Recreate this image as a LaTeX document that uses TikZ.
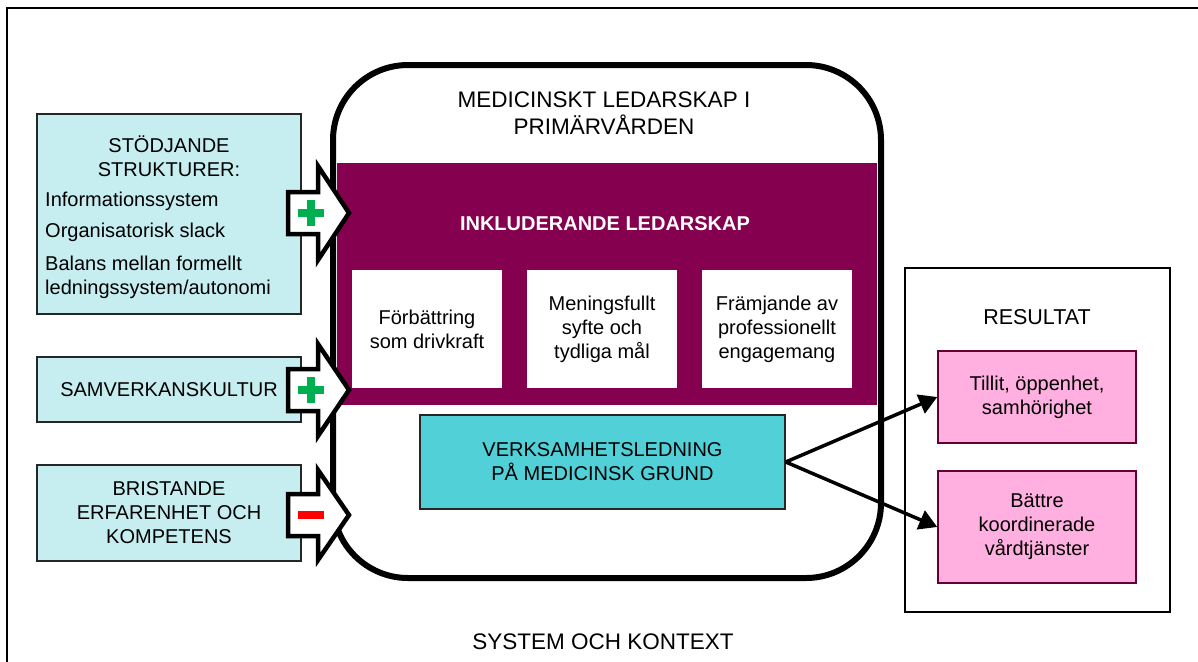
\documentclass[tikz,border=0pt]{standalone}
\usepackage{fontspec}
\setmainfont{Liberation Sans}
\usetikzlibrary{arrows.meta}
\definecolor{cyanlight}{RGB}{198,238,240}
\definecolor{plum}{RGB}{134,0,80}
\definecolor{tealbox}{RGB}{82,208,216}
\definecolor{pinkbox}{RGB}{255,176,224}
\definecolor{pinkborder}{RGB}{100,0,50}
\definecolor{plusgreen}{RGB}{0,176,80}
\definecolor{minusred}{RGB}{255,0,0}
\begin{document}
\begin{tikzpicture}[x=1pt,y=-1pt,
  every node/.style={font=\fontsize{20}{24}\selectfont, inner sep=0pt, align=center},
  bigfont/.style={font=\fontsize{22.5}{27}\selectfont},
  cbox/.style={draw=black!85, line width=1.5pt, fill=cyanlight},
  wbox/.style={fill=white},
  pbox/.style={draw=pinkborder, line width=1.5pt, fill=pinkbox, minimum width=198},
  conn/.style={line width=3.5pt, -{Triangle[length=18pt,width=20pt]}},
  barrow/.style={draw=black, fill=white, line width=4.5pt, line join=miter},
]
\useasboundingbox (0,0) rectangle (1198,661);
% outer frame (cut by the page)
\begin{scope}
  \clip (0,0) rectangle (1198,661);
  \draw[line width=2pt] (7,700) -- (7,8) -- (1250,8);
\end{scope}

% left boxes
\node[cbox, minimum width=264, minimum height=200] (sup) at (169,214) {};
\node (supH) at (169,156) {STÖDJANDE\\STRUKTURER:};
\node[anchor=west] (sup1) at (45,201) {Informationssystem};
\node[anchor=west] (sup2) at (45,232) {Organisatorisk slack};
\node[anchor=west, align=left] (sup3) at (45,277) {Balans mellan formellt\\ledningssystem/autonomi};

\node[cbox, minimum width=264, minimum height=65] (samv) at (169,389.5) {SAMVERKANSKULTUR};
\node[cbox, minimum width=264, minimum height=96] (brist) at (169,513) {BRISTANDE\\ERFARENHET OCH\\KOMPETENS};

% central rounded frame
\node[draw, line width=6pt, rounded corners=75pt, minimum width=548, minimum height=513] (mlp) at (607,321.5) {};
\node[bigfont] (mlpT) at (604,113) {MEDICINSKT LEDARSKAP I\\PRIMÄRVÅRDEN};

% inclusive leadership band
\node[fill=plum, minimum width=540, minimum height=242] (inkl) at (607,284) {};
\node[text=white, font=\fontsize{20}{24}\selectfont\bfseries] (inklT) at (605,224) {INKLUDERANDE LEDARSKAP};
\node[wbox, minimum width=150, minimum height=118] (w1) at (427,329) {Förbättring\\som drivkraft};
\node[wbox, minimum width=150, minimum height=118] (w2) at (602,329) {Meningsfullt\\syfte och\\tydliga mål};
\node[wbox, minimum width=150, minimum height=118] (w3) at (777,329) {Främjande av\\professionellt\\engagemang};

% management box
\node[draw=black!85, line width=1.5pt, fill=tealbox, minimum width=365, minimum height=94] (verk) at (602.5,462) {VERKSAMHETSLEDNING\\PÅ MEDICINSK GRUND};

% results
\node[draw=black, line width=2pt, minimum width=265, minimum height=344] (res) at (1037.5,440) {};
\node[font=\fontsize{21.5}{26}\selectfont] (resT) at (1037,317) {RESULTAT};
\node[pbox, minimum height=92] (p1) at (1037,397) {Tillit, öppenhet,\\samhörighet};
\node[pbox, minimum height=112] (p2) at (1037,527) {Bättre\\koordinerade\\vårdtjänster};

\draw[conn] (verk.east) -- (p1.west);
\draw[conn] (verk.east) -- (p2.west);

% block arrows with signs
\begin{scope}[shift={(0,213)}]
  \draw[barrow] (288,-21) -- (318,-21) -- (318,-47) -- (349,0) -- (318,47) -- (318,21) -- (288,21) -- cycle;
  \fill[plusgreen] (298,-4) rectangle (324,4);
  \fill[plusgreen] (307,-13) rectangle (315,13);
\end{scope}
\begin{scope}[shift={(0,390)}]
  \draw[barrow] (288,-21) -- (318,-21) -- (318,-46) -- (349,0) -- (318,46) -- (318,21) -- (288,21) -- cycle;
  \fill[plusgreen] (298,-4) rectangle (324,4);
  \fill[plusgreen] (307,-13) rectangle (315,13);
\end{scope}
\begin{scope}[shift={(0,515)}]
  \draw[barrow] (288,-21) -- (318,-21) -- (318,-45) -- (349,0) -- (318,45) -- (318,21) -- (288,21) -- cycle;
  \fill[minusred] (298,-4) rectangle (324,4);
\end{scope}

\node[bigfont] (sys) at (603,642) {SYSTEM OCH KONTEXT};
\end{tikzpicture}
\end{document}
